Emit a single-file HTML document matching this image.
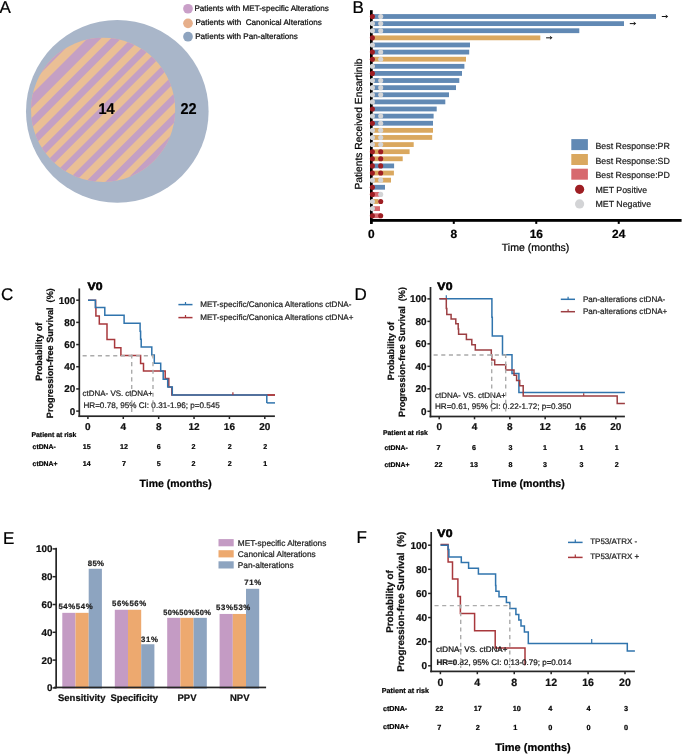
<!DOCTYPE html>
<html><head><meta charset="utf-8"><title>Figure</title>
<style>
html,body{margin:0;padding:0;background:#fff;}
body{width:685px;height:754px;overflow:hidden;}
svg{display:block;font-family:"Liberation Sans",sans-serif;will-change:transform;}
text{stroke:currentColor;stroke-width:0.22px;text-rendering:geometricPrecision;}
</style></head>
<body>
<svg width="685" height="754" viewBox="0 0 685 754">
<rect width="685" height="754" fill="#fff"/>
<text x="-0.60" y="12.60" font-size="17" font-weight="normal" text-anchor="start" fill="#000" color="#000" >A</text>
<circle cx="117.30" cy="111.40" r="91.30" fill="#A9B6C9" />
<defs><clipPath id="ic"><circle cx="103.1" cy="109.8" r="72.1"/></clipPath></defs>
<g clip-path="url(#ic)">
<rect x="28.00" y="35.00" width="150.00" height="150.00" fill="#EABF95" />
<polygon points="76.00,20.00 93.90,20.00 -86.10,200.00 -104.00,200.00" fill="#C4A0C4"/>
<polygon points="106.00,20.00 119.50,20.00 -60.50,200.00 -74.00,200.00" fill="#C4A0C4"/>
<polygon points="129.40,20.00 139.60,20.00 -40.40,200.00 -50.60,200.00" fill="#C4A0C4"/>
<polygon points="149.90,20.00 159.50,20.00 -20.50,200.00 -30.10,200.00" fill="#C4A0C4"/>
<polygon points="169.80,20.00 178.90,20.00 -1.10,200.00 -10.20,200.00" fill="#C4A0C4"/>
<polygon points="188.00,20.00 197.30,20.00 17.30,200.00 8.00,200.00" fill="#C4A0C4"/>
<polygon points="208.00,20.00 216.80,20.00 36.80,200.00 28.00,200.00" fill="#C4A0C4"/>
<polygon points="228.10,20.00 236.90,20.00 56.90,200.00 48.10,200.00" fill="#C4A0C4"/>
<polygon points="247.60,20.00 256.90,20.00 76.90,200.00 67.60,200.00" fill="#C4A0C4"/>
<polygon points="267.40,20.00 277.10,20.00 97.10,200.00 87.40,200.00" fill="#C4A0C4"/>
<polygon points="286.20,20.00 296.50,20.00 116.50,200.00 106.20,200.00" fill="#C4A0C4"/>
</g>
<text transform="translate(106.5,113.6) scale(0.93,1)" font-size="15.6" font-weight="bold" text-anchor="middle" fill="#000" color="#000">14</text>
<text transform="translate(188.5,113.6) scale(0.93,1)" font-size="15.6" font-weight="bold" text-anchor="middle" fill="#000" color="#000">22</text>
<circle cx="188.00" cy="8.75" r="4.85" fill="#C99FC8" />
<text x="194.40" y="10.55" font-size="8.1" fill="#111">Patients with MET-specific Alterations</text>
<circle cx="188.00" cy="23.35" r="4.85" fill="#E6AF8B" />
<text x="195.40" y="25.15" font-size="8.1" fill="#111">Patients with <tspan dx="2.1">Canonical Alterations</tspan></text>
<circle cx="188.00" cy="36.70" r="4.85" fill="#8EA4BF" />
<text x="195.20" y="38.50" font-size="8.1" fill="#111">Patients with Pan-alterations</text>
<text x="352.60" y="12.80" font-size="17" font-weight="normal" text-anchor="start" fill="#000" color="#000" >B</text>
<rect x="371.50" y="14.10" width="284.50" height="4.80" fill="#6189B4" />
<line x1="661.80" y1="16.50" x2="666.40" y2="16.50" stroke="#111" stroke-width="1.0" />
<path d="M665.50,14.50 L668.20,16.50 L665.50,18.50 L666.20,16.50 Z" fill="#111"/>
<rect x="371.50" y="21.22" width="252.50" height="4.80" fill="#6189B4" />
<line x1="629.80" y1="23.62" x2="634.40" y2="23.62" stroke="#111" stroke-width="1.0" />
<path d="M633.50,21.62 L636.20,23.62 L633.50,25.62 L634.20,23.62 Z" fill="#111"/>
<rect x="371.50" y="28.33" width="207.80" height="4.80" fill="#6189B4" />
<rect x="371.50" y="35.45" width="168.80" height="4.80" fill="#DAA85F" />
<line x1="546.10" y1="37.84" x2="550.70" y2="37.84" stroke="#111" stroke-width="1.0" />
<path d="M549.80,35.84 L552.50,37.84 L549.80,39.84 L550.50,37.84 Z" fill="#111"/>
<rect x="371.50" y="42.56" width="98.50" height="4.80" fill="#6189B4" />
<rect x="371.50" y="49.68" width="97.70" height="4.80" fill="#6189B4" />
<rect x="371.50" y="56.79" width="94.50" height="4.80" fill="#DAA85F" />
<rect x="371.50" y="63.91" width="92.90" height="4.80" fill="#6189B4" />
<rect x="371.50" y="71.02" width="90.50" height="4.80" fill="#6189B4" />
<rect x="371.50" y="78.13" width="87.80" height="4.80" fill="#6189B4" />
<rect x="371.50" y="85.25" width="84.50" height="4.80" fill="#6189B4" />
<rect x="371.50" y="92.36" width="77.50" height="4.80" fill="#6189B4" />
<rect x="371.50" y="99.48" width="73.80" height="4.80" fill="#6189B4" />
<rect x="371.50" y="106.59" width="65.20" height="4.80" fill="#6189B4" />
<rect x="371.50" y="113.71" width="62.10" height="4.80" fill="#6189B4" />
<rect x="371.50" y="120.83" width="61.50" height="4.80" fill="#6189B4" />
<rect x="371.50" y="127.94" width="61.50" height="4.80" fill="#DAA85F" />
<rect x="371.50" y="135.05" width="60.70" height="4.80" fill="#DAA85F" />
<rect x="371.50" y="142.17" width="42.20" height="4.80" fill="#DAA85F" />
<rect x="371.50" y="149.28" width="38.10" height="4.80" fill="#DAA85F" />
<rect x="371.50" y="156.40" width="31.20" height="4.80" fill="#DAA85F" />
<rect x="371.50" y="163.51" width="22.60" height="4.80" fill="#6189B4" />
<rect x="371.50" y="170.63" width="22.40" height="4.80" fill="#DAA85F" />
<rect x="371.50" y="177.75" width="19.50" height="4.80" fill="#DAA85F" />
<rect x="371.50" y="184.86" width="13.50" height="4.80" fill="#6189B4" />
<rect x="371.50" y="191.97" width="9.80" height="4.80" fill="#D7696E" />
<rect x="371.50" y="199.09" width="7.00" height="4.80" fill="#DAA85F" />
<rect x="371.50" y="206.21" width="8.50" height="4.80" fill="#D7696E" />
<rect x="371.50" y="213.32" width="9.80" height="4.80" fill="#D7696E" />
<rect x="370.00" y="10.20" width="2.70" height="213.70" fill="#000" />
<rect x="370.00" y="219.00" width="311.60" height="2.80" fill="#000" />
<rect x="370.30" y="221.00" width="2.00" height="2.90" fill="#000" />
<text x="371.30" y="237.90" font-size="11.9" font-weight="bold" text-anchor="middle" fill="#000" color="#000" >0</text>
<rect x="452.78" y="221.00" width="2.00" height="2.90" fill="#000" />
<text x="453.78" y="237.90" font-size="11.9" font-weight="bold" text-anchor="middle" fill="#000" color="#000" >8</text>
<rect x="535.26" y="221.00" width="2.00" height="2.90" fill="#000" />
<text x="536.26" y="237.90" font-size="11.9" font-weight="bold" text-anchor="middle" fill="#000" color="#000" >16</text>
<rect x="617.74" y="221.00" width="2.00" height="2.90" fill="#000" />
<text x="618.74" y="237.90" font-size="11.9" font-weight="bold" text-anchor="middle" fill="#000" color="#000" >24</text>
<circle cx="372.40" cy="16.50" r="2.55" fill="#9E1E23" />
<circle cx="380.70" cy="16.50" r="2.55" fill="#D3D4D6" />
<circle cx="372.40" cy="23.62" r="2.55" fill="#D3D4D6" />
<circle cx="380.70" cy="23.62" r="2.55" fill="#D3D4D6" />
<circle cx="372.40" cy="30.73" r="2.55" fill="#D3D4D6" />
<circle cx="380.70" cy="30.73" r="2.55" fill="#D3D4D6" />
<circle cx="372.40" cy="37.84" r="2.55" fill="#9E1E23" />
<circle cx="372.40" cy="44.96" r="2.55" fill="#D3D4D6" />
<circle cx="372.40" cy="52.08" r="2.55" fill="#9E1E23" />
<circle cx="380.70" cy="52.08" r="2.55" fill="#D3D4D6" />
<circle cx="372.40" cy="59.19" r="2.55" fill="#9E1E23" />
<circle cx="380.70" cy="59.19" r="2.55" fill="#D3D4D6" />
<circle cx="372.40" cy="66.31" r="2.55" fill="#D3D4D6" />
<circle cx="372.40" cy="73.42" r="2.55" fill="#9E1E23" />
<circle cx="372.40" cy="80.53" r="2.55" fill="#D3D4D6" />
<circle cx="380.70" cy="80.53" r="2.55" fill="#D3D4D6" />
<circle cx="372.40" cy="87.65" r="2.55" fill="#D3D4D6" />
<circle cx="380.70" cy="87.65" r="2.55" fill="#D3D4D6" />
<circle cx="372.40" cy="94.77" r="2.55" fill="#D3D4D6" />
<circle cx="380.70" cy="94.77" r="2.55" fill="#D3D4D6" />
<circle cx="372.40" cy="101.88" r="2.55" fill="#D3D4D6" />
<circle cx="372.40" cy="109.00" r="2.55" fill="#9E1E23" />
<circle cx="372.40" cy="116.11" r="2.55" fill="#D3D4D6" />
<circle cx="380.70" cy="116.11" r="2.55" fill="#D3D4D6" />
<circle cx="372.40" cy="123.23" r="2.55" fill="#9E1E23" />
<circle cx="380.70" cy="123.23" r="2.55" fill="#D3D4D6" />
<circle cx="372.40" cy="130.34" r="2.55" fill="#D3D4D6" />
<circle cx="380.70" cy="130.34" r="2.55" fill="#D3D4D6" />
<circle cx="372.40" cy="137.45" r="2.55" fill="#D3D4D6" />
<circle cx="380.70" cy="137.45" r="2.55" fill="#D3D4D6" />
<circle cx="372.40" cy="144.57" r="2.55" fill="#D3D4D6" />
<circle cx="380.70" cy="144.57" r="2.55" fill="#D3D4D6" />
<circle cx="372.40" cy="151.69" r="2.55" fill="#9E1E23" />
<circle cx="380.70" cy="151.69" r="2.55" fill="#9E1E23" />
<circle cx="372.40" cy="158.80" r="2.55" fill="#9E1E23" />
<circle cx="380.70" cy="158.80" r="2.55" fill="#9E1E23" />
<circle cx="372.40" cy="165.91" r="2.55" fill="#9E1E23" />
<circle cx="380.70" cy="165.91" r="2.55" fill="#9E1E23" />
<circle cx="372.40" cy="173.03" r="2.55" fill="#9E1E23" />
<circle cx="380.70" cy="173.03" r="2.55" fill="#9E1E23" />
<circle cx="372.40" cy="180.15" r="2.55" fill="#D3D4D6" />
<circle cx="380.70" cy="180.15" r="2.55" fill="#D3D4D6" />
<circle cx="372.40" cy="187.26" r="2.55" fill="#9E1E23" />
<circle cx="372.40" cy="194.38" r="2.55" fill="#9E1E23" />
<circle cx="380.70" cy="194.38" r="2.55" fill="#D3D4D6" />
<circle cx="372.40" cy="201.49" r="2.55" fill="#D3D4D6" />
<circle cx="380.70" cy="201.49" r="2.55" fill="#9E1E23" />
<circle cx="372.40" cy="208.61" r="2.55" fill="#D3D4D6" />
<circle cx="372.40" cy="215.72" r="2.55" fill="#9E1E23" />
<circle cx="380.70" cy="215.72" r="2.55" fill="#9E1E23" />
<text x="535.60" y="250.70" font-size="10.55" font-weight="normal" text-anchor="middle" fill="#000" color="#000" >Time (months)</text>
<text transform="translate(361.5,124.1) rotate(-90)" font-size="10.25" text-anchor="middle">Patients Received Ensartinib</text>
<rect x="571.30" y="139.10" width="16.60" height="11.00" fill="#6189B4" />
<rect x="571.30" y="154.00" width="16.60" height="11.00" fill="#DAA85F" />
<rect x="571.30" y="168.70" width="16.60" height="11.00" fill="#D7696E" />
<circle cx="579.60" cy="189.30" r="4.60" fill="#9E1E23" />
<circle cx="579.60" cy="203.90" r="4.60" fill="#D3D4D6" />
<text x="595.50" y="148.80" font-size="8.8" font-weight="normal" text-anchor="start" fill="#222" color="#222" >Best Response:PR</text>
<text x="595.50" y="163.50" font-size="8.8" font-weight="normal" text-anchor="start" fill="#222" color="#222" >Best Response:SD</text>
<text x="595.50" y="178.10" font-size="8.8" font-weight="normal" text-anchor="start" fill="#222" color="#222" >Best Response:PD</text>
<text x="595.50" y="192.70" font-size="8.8" font-weight="normal" text-anchor="start" fill="#222" color="#222" >MET Positive</text>
<text x="595.50" y="207.30" font-size="8.8" font-weight="normal" text-anchor="start" fill="#222" color="#222" >MET Negative</text>
<text x="0.90" y="299.60" font-size="17" font-weight="normal" text-anchor="start" fill="#000" color="#000" >C</text>
<rect x="78.45" y="288.40" width="1.70" height="128.65" fill="#262626" />
<rect x="78.50" y="415.35" width="196.40" height="1.70" fill="#262626" />
<rect x="76.20" y="410.35" width="3.10" height="1.50" fill="#262626" />
<text x="75.20" y="414.52" font-size="9.9" font-weight="bold" text-anchor="end" fill="#111" color="#111" >0</text>
<rect x="76.20" y="388.17" width="3.10" height="1.50" fill="#262626" />
<text x="75.20" y="392.34" font-size="9.9" font-weight="bold" text-anchor="end" fill="#111" color="#111" >20</text>
<rect x="76.20" y="365.99" width="3.10" height="1.50" fill="#262626" />
<text x="75.20" y="370.16" font-size="9.9" font-weight="bold" text-anchor="end" fill="#111" color="#111" >40</text>
<rect x="76.20" y="343.81" width="3.10" height="1.50" fill="#262626" />
<text x="75.20" y="347.98" font-size="9.9" font-weight="bold" text-anchor="end" fill="#111" color="#111" >60</text>
<rect x="76.20" y="321.63" width="3.10" height="1.50" fill="#262626" />
<text x="75.20" y="325.80" font-size="9.9" font-weight="bold" text-anchor="end" fill="#111" color="#111" >80</text>
<rect x="76.20" y="299.45" width="3.10" height="1.50" fill="#262626" />
<text x="75.20" y="303.62" font-size="9.9" font-weight="bold" text-anchor="end" fill="#111" color="#111" >100</text>
<rect x="87.15" y="416.20" width="1.50" height="2.80" fill="#262626" />
<text x="87.90" y="429.70" font-size="10.0" font-weight="bold" text-anchor="middle" fill="#111" color="#111" >0</text>
<rect x="122.53" y="416.20" width="1.50" height="2.80" fill="#262626" />
<text x="123.28" y="429.70" font-size="10.0" font-weight="bold" text-anchor="middle" fill="#111" color="#111" >4</text>
<rect x="157.91" y="416.20" width="1.50" height="2.80" fill="#262626" />
<text x="158.66" y="429.70" font-size="10.0" font-weight="bold" text-anchor="middle" fill="#111" color="#111" >8</text>
<rect x="193.29" y="416.20" width="1.50" height="2.80" fill="#262626" />
<text x="194.04" y="429.70" font-size="10.0" font-weight="bold" text-anchor="middle" fill="#111" color="#111" >12</text>
<rect x="228.67" y="416.20" width="1.50" height="2.80" fill="#262626" />
<text x="229.42" y="429.70" font-size="10.0" font-weight="bold" text-anchor="middle" fill="#111" color="#111" >16</text>
<rect x="264.05" y="416.20" width="1.50" height="2.80" fill="#262626" />
<text x="264.80" y="429.70" font-size="10.0" font-weight="bold" text-anchor="middle" fill="#111" color="#111" >20</text>
<text transform="translate(87.4,289.8) scale(1.12,1)" font-size="10.9" font-weight="bold" fill="#000" color="#000" style="letter-spacing:0.3px;stroke-width:0.6px">V0</text>
<polyline points="88.00,300.20 95.60,300.20 95.60,307.50 95.90,307.50 95.90,316.00 99.30,316.00 99.30,323.90 107.00,323.90 107.00,339.60 114.60,339.60 114.60,347.70 120.90,347.70 120.90,355.40 140.60,355.40 140.60,363.50 143.50,363.50 143.50,370.90 165.20,370.90 165.20,378.60 168.80,378.60 168.80,387.10 171.80,387.10 171.80,395.00 275.00,395.00" fill="none" stroke="#A8383C" stroke-width="1.5" stroke-linejoin="miter" stroke-linecap="butt" />
<polyline points="266.80,395.00 275.00,395.00" fill="none" stroke="#A8383C" stroke-width="1.5" stroke-linejoin="miter" stroke-linecap="butt" />
<polyline points="88.00,300.20 95.40,300.20 95.40,307.50 104.80,307.50 104.80,315.30 124.10,315.30 124.10,323.20 140.10,323.20 140.10,331.30 140.60,331.30 140.60,339.20 141.20,339.20 141.20,347.10 151.80,347.10 151.80,355.00 154.30,355.00 154.30,363.30 160.70,363.30 160.70,371.00 163.20,371.00 163.20,379.20 167.70,379.20 167.70,387.10 172.30,387.10 172.30,395.00 266.80,395.00 266.80,402.90" fill="none" stroke="#3074AD" stroke-width="1.5" stroke-linejoin="miter" stroke-linecap="butt" />
<polyline points="266.80,402.90 275.00,402.90 275.00,402.90" fill="none" stroke="#3074AD" stroke-width="1.5" stroke-linejoin="miter" stroke-linecap="butt" />
<line x1="232.90" y1="392.20" x2="232.90" y2="395.00" stroke="#A8383C" stroke-width="1.2" />
<text x="82.60" y="396.20" font-size="7.95" font-weight="normal" text-anchor="start" fill="#222" color="#222" >ctDNA- VS. ctDNA+</text>
<text x="83.40" y="407.70" font-size="8.15" font-weight="normal" text-anchor="start" fill="#222" color="#222" >HR=0.78, 95% CI: 0.31-1.96; p=0.545</text>
<line x1="178.40" y1="304.60" x2="192.50" y2="304.60" stroke="#3074AD" stroke-width="1.5" />
<line x1="185.50" y1="302.00" x2="185.50" y2="304.60" stroke="#3074AD" stroke-width="1.2" />
<text x="200.20" y="306.60" font-size="8.1" font-weight="normal" text-anchor="start" fill="#222" color="#222" >MET-specific/Canonica Alterations ctDNA-</text>
<line x1="178.40" y1="317.60" x2="192.50" y2="317.60" stroke="#A8383C" stroke-width="1.5" />
<line x1="185.50" y1="315.00" x2="185.50" y2="317.60" stroke="#A8383C" stroke-width="1.2" />
<text x="200.20" y="319.60" font-size="8.1" font-weight="normal" text-anchor="start" fill="#222" color="#222" >MET-specific/Canonica Alterations ctDNA+</text>
<text x="31.50" y="436.70" font-size="6.85" font-weight="bold" text-anchor="start" fill="#000" color="#000" >Patient at risk</text>
<text x="32.60" y="448.80" font-size="6.85" font-weight="bold" text-anchor="start" fill="#000" color="#000" >ctDNA-</text>
<text x="32.60" y="466.10" font-size="6.85" font-weight="bold" text-anchor="start" fill="#000" color="#000" >ctDNA+</text>
<text x="86.80" y="448.80" font-size="7.1" font-weight="bold" text-anchor="middle" fill="#000" color="#000" >15</text>
<text x="123.98" y="448.80" font-size="7.1" font-weight="bold" text-anchor="middle" fill="#000" color="#000" >12</text>
<text x="158.76" y="448.80" font-size="7.1" font-weight="bold" text-anchor="middle" fill="#000" color="#000" >6</text>
<text x="193.44" y="448.80" font-size="7.1" font-weight="bold" text-anchor="middle" fill="#000" color="#000" >2</text>
<text x="229.62" y="448.80" font-size="7.1" font-weight="bold" text-anchor="middle" fill="#000" color="#000" >2</text>
<text x="265.30" y="448.80" font-size="7.1" font-weight="bold" text-anchor="middle" fill="#000" color="#000" >2</text>
<text x="86.80" y="466.20" font-size="7.1" font-weight="bold" text-anchor="middle" fill="#000" color="#000" >14</text>
<text x="123.98" y="466.20" font-size="7.1" font-weight="bold" text-anchor="middle" fill="#000" color="#000" >7</text>
<text x="158.76" y="466.20" font-size="7.1" font-weight="bold" text-anchor="middle" fill="#000" color="#000" >5</text>
<text x="193.44" y="466.20" font-size="7.1" font-weight="bold" text-anchor="middle" fill="#000" color="#000" >2</text>
<text x="229.62" y="466.20" font-size="7.1" font-weight="bold" text-anchor="middle" fill="#000" color="#000" >2</text>
<text x="265.30" y="466.20" font-size="7.1" font-weight="bold" text-anchor="middle" fill="#000" color="#000" >1</text>
<text x="175.60" y="487.20" font-size="10.5" font-weight="bold" text-anchor="middle" fill="#000" color="#000" >Time (months)</text>
<text transform="translate(42.3,351.8) rotate(-90)" font-size="9.1" font-weight="bold" text-anchor="middle" fill="#111">Probability of</text>
<text transform="translate(53.2,353.2) rotate(-90)" font-size="9.1" font-weight="bold" text-anchor="middle" fill="#111" xml:space="preserve">Progression-free Survival  (%)</text>
<text x="354.60" y="299.50" font-size="17" font-weight="normal" text-anchor="start" fill="#000" color="#000" >D</text>
<rect x="429.65" y="287.00" width="1.70" height="130.35" fill="#262626" />
<rect x="429.60" y="415.65" width="195.30" height="1.70" fill="#262626" />
<rect x="427.40" y="410.55" width="3.10" height="1.50" fill="#262626" />
<text x="426.40" y="414.72" font-size="9.9" font-weight="bold" text-anchor="end" fill="#111" color="#111" >0</text>
<rect x="427.40" y="388.07" width="3.10" height="1.50" fill="#262626" />
<text x="426.40" y="392.24" font-size="9.9" font-weight="bold" text-anchor="end" fill="#111" color="#111" >20</text>
<rect x="427.40" y="365.59" width="3.10" height="1.50" fill="#262626" />
<text x="426.40" y="369.76" font-size="9.9" font-weight="bold" text-anchor="end" fill="#111" color="#111" >40</text>
<rect x="427.40" y="343.11" width="3.10" height="1.50" fill="#262626" />
<text x="426.40" y="347.28" font-size="9.9" font-weight="bold" text-anchor="end" fill="#111" color="#111" >60</text>
<rect x="427.40" y="320.63" width="3.10" height="1.50" fill="#262626" />
<text x="426.40" y="324.80" font-size="9.9" font-weight="bold" text-anchor="end" fill="#111" color="#111" >80</text>
<rect x="427.40" y="298.15" width="3.10" height="1.50" fill="#262626" />
<text x="426.40" y="302.32" font-size="9.9" font-weight="bold" text-anchor="end" fill="#111" color="#111" >100</text>
<rect x="438.45" y="416.50" width="1.50" height="2.80" fill="#262626" />
<text x="439.20" y="430.20" font-size="10.0" font-weight="bold" text-anchor="middle" fill="#111" color="#111" >0</text>
<rect x="473.77" y="416.50" width="1.50" height="2.80" fill="#262626" />
<text x="474.52" y="430.20" font-size="10.0" font-weight="bold" text-anchor="middle" fill="#111" color="#111" >4</text>
<rect x="509.09" y="416.50" width="1.50" height="2.80" fill="#262626" />
<text x="509.84" y="430.20" font-size="10.0" font-weight="bold" text-anchor="middle" fill="#111" color="#111" >8</text>
<rect x="544.41" y="416.50" width="1.50" height="2.80" fill="#262626" />
<text x="545.16" y="430.20" font-size="10.0" font-weight="bold" text-anchor="middle" fill="#111" color="#111" >12</text>
<rect x="579.73" y="416.50" width="1.50" height="2.80" fill="#262626" />
<text x="580.48" y="430.20" font-size="10.0" font-weight="bold" text-anchor="middle" fill="#111" color="#111" >16</text>
<rect x="615.05" y="416.50" width="1.50" height="2.80" fill="#262626" />
<text x="615.80" y="430.20" font-size="10.0" font-weight="bold" text-anchor="middle" fill="#111" color="#111" >20</text>
<text transform="translate(437.2,289.9) scale(1.12,1)" font-size="10.9" font-weight="bold" fill="#000" color="#000" style="letter-spacing:0.3px;stroke-width:0.6px">V0</text>
<polyline points="439.40,298.70 491.90,298.70 491.90,317.20 492.30,317.20 492.30,336.00 502.50,336.00 502.50,354.70 512.00,354.70 512.00,373.40 518.90,373.40 518.90,392.40 624.90,392.40 624.90,392.40" fill="none" stroke="#3074AD" stroke-width="1.5" stroke-linejoin="miter" stroke-linecap="butt" />
<line x1="446.30" y1="295.30" x2="446.30" y2="298.70" stroke="#3074AD" stroke-width="1.2" />
<polyline points="439.40,298.70 446.30,298.70 446.30,308.50 446.80,308.50 446.80,314.60 451.10,314.60 451.10,319.10 455.80,319.10 455.80,323.80 458.20,323.80 458.20,329.00 458.60,329.00 458.60,334.30 466.40,334.30 466.40,339.60 471.80,339.60 471.80,344.70 475.30,344.70 475.30,350.00 491.30,350.00 491.30,355.00 491.80,355.00 491.80,360.00 494.70,360.00 494.70,364.80 505.70,364.80 505.70,370.10 514.00,370.10 514.00,375.30 516.60,375.30 516.60,380.60 519.70,380.60 519.70,385.80 523.20,385.80 523.20,396.00 617.20,396.00 617.20,403.60 624.90,403.60 624.90,403.60" fill="none" stroke="#9C3E42" stroke-width="1.5" stroke-linejoin="miter" stroke-linecap="butt" />
<line x1="583.70" y1="393.30" x2="583.70" y2="396.00" stroke="#9C3E42" stroke-width="1.2" />
<text x="435.00" y="397.70" font-size="8.0" font-weight="normal" text-anchor="start" fill="#222" color="#222" >ctDNA- VS. ctDNA+</text>
<text x="434.90" y="408.90" font-size="8.15" font-weight="normal" text-anchor="start" fill="#222" color="#222" >HR=0.61, 95% CI: 0.22-1.72; p=0.350</text>
<line x1="560.80" y1="299.30" x2="575.00" y2="299.30" stroke="#3074AD" stroke-width="1.5" />
<line x1="568.10" y1="296.80" x2="568.10" y2="299.30" stroke="#3074AD" stroke-width="1.2" />
<text x="583.00" y="301.80" font-size="8.05" font-weight="normal" text-anchor="start" fill="#222" color="#222" >Pan-alterations ctDNA-</text>
<line x1="560.80" y1="311.70" x2="575.00" y2="311.70" stroke="#9C3E42" stroke-width="1.5" />
<line x1="568.10" y1="309.20" x2="568.10" y2="311.70" stroke="#9C3E42" stroke-width="1.2" />
<text x="583.00" y="314.20" font-size="8.05" font-weight="normal" text-anchor="start" fill="#222" color="#222" >Pan-alterations ctDNA+</text>
<text x="383.00" y="434.80" font-size="6.85" font-weight="bold" text-anchor="start" fill="#000" color="#000" >Patient at risk</text>
<text x="384.50" y="449.80" font-size="6.85" font-weight="bold" text-anchor="start" fill="#000" color="#000" >ctDNA-</text>
<text x="384.50" y="467.40" font-size="6.85" font-weight="bold" text-anchor="start" fill="#000" color="#000" >ctDNA+</text>
<text x="438.50" y="449.90" font-size="7.1" font-weight="bold" text-anchor="middle" fill="#000" color="#000" >7</text>
<text x="474.02" y="449.90" font-size="7.1" font-weight="bold" text-anchor="middle" fill="#000" color="#000" >6</text>
<text x="510.44" y="449.90" font-size="7.1" font-weight="bold" text-anchor="middle" fill="#000" color="#000" >3</text>
<text x="544.86" y="449.90" font-size="7.1" font-weight="bold" text-anchor="middle" fill="#000" color="#000" >1</text>
<text x="581.48" y="449.90" font-size="7.1" font-weight="bold" text-anchor="middle" fill="#000" color="#000" >1</text>
<text x="616.80" y="449.90" font-size="7.1" font-weight="bold" text-anchor="middle" fill="#000" color="#000" >1</text>
<text x="438.50" y="467.20" font-size="7.1" font-weight="bold" text-anchor="middle" fill="#000" color="#000" >22</text>
<text x="474.02" y="467.20" font-size="7.1" font-weight="bold" text-anchor="middle" fill="#000" color="#000" >13</text>
<text x="510.44" y="467.20" font-size="7.1" font-weight="bold" text-anchor="middle" fill="#000" color="#000" >8</text>
<text x="544.86" y="467.20" font-size="7.1" font-weight="bold" text-anchor="middle" fill="#000" color="#000" >3</text>
<text x="581.48" y="467.20" font-size="7.1" font-weight="bold" text-anchor="middle" fill="#000" color="#000" >3</text>
<text x="616.80" y="467.20" font-size="7.1" font-weight="bold" text-anchor="middle" fill="#000" color="#000" >2</text>
<text x="528.40" y="487.30" font-size="10.6" font-weight="bold" text-anchor="middle" fill="#000" color="#000" >Time (months)</text>
<text transform="translate(393.8,351.1) rotate(-90)" font-size="9.1" font-weight="bold" text-anchor="middle" fill="#111">Probability of</text>
<text transform="translate(405.0,352.0) rotate(-90)" font-size="9.1" font-weight="bold" text-anchor="middle" fill="#111" xml:space="preserve">Progression-free Survival  (%)</text>
<text x="2.90" y="544.30" font-size="17" font-weight="normal" text-anchor="start" fill="#000" color="#000" >E</text>
<rect x="62.30" y="612.84" width="13.20" height="75.76" fill="#C49BC4" />
<rect x="75.50" y="612.84" width="13.20" height="75.76" fill="#EDA96F" />
<rect x="88.70" y="568.78" width="13.20" height="119.82" fill="#8DA4C0" />
<rect x="114.80" y="609.78" width="13.20" height="78.82" fill="#C49BC4" />
<rect x="128.00" y="609.78" width="13.20" height="78.82" fill="#EDA96F" />
<rect x="141.20" y="644.25" width="13.20" height="44.35" fill="#8DA4C0" />
<rect x="167.20" y="617.84" width="13.20" height="70.76" fill="#C49BC4" />
<rect x="180.40" y="617.84" width="13.20" height="70.76" fill="#EDA96F" />
<rect x="193.60" y="617.84" width="13.20" height="70.76" fill="#8DA4C0" />
<rect x="219.60" y="613.95" width="13.20" height="74.65" fill="#C49BC4" />
<rect x="232.80" y="613.95" width="13.20" height="74.65" fill="#EDA96F" />
<rect x="246.00" y="588.79" width="13.20" height="99.81" fill="#8DA4C0" />
<rect x="55.30" y="547.80" width="1.70" height="140.60" fill="#262626" />
<rect x="54.10" y="686.60" width="212.00" height="1.70" fill="#262626" />
<rect x="52.60" y="687.15" width="3.50" height="1.50" fill="#262626" />
<text x="52.40" y="691.30" font-size="9.8" font-weight="bold" text-anchor="end" fill="#111" color="#111" >0</text>
<rect x="52.60" y="659.35" width="3.50" height="1.50" fill="#262626" />
<text x="52.40" y="663.50" font-size="9.8" font-weight="bold" text-anchor="end" fill="#111" color="#111" >20</text>
<rect x="52.60" y="631.55" width="3.50" height="1.50" fill="#262626" />
<text x="52.40" y="635.70" font-size="9.8" font-weight="bold" text-anchor="end" fill="#111" color="#111" >40</text>
<rect x="52.60" y="603.75" width="3.50" height="1.50" fill="#262626" />
<text x="52.40" y="607.90" font-size="9.8" font-weight="bold" text-anchor="end" fill="#111" color="#111" >60</text>
<rect x="52.60" y="575.95" width="3.50" height="1.50" fill="#262626" />
<text x="52.40" y="580.10" font-size="9.8" font-weight="bold" text-anchor="end" fill="#111" color="#111" >80</text>
<rect x="52.60" y="548.15" width="3.50" height="1.50" fill="#262626" />
<text x="52.40" y="552.30" font-size="9.8" font-weight="bold" text-anchor="end" fill="#111" color="#111" >100</text>
<text x="58.40" y="609.20" font-size="7.8" font-weight="bold" text-anchor="start" fill="#222" color="#222" letter-spacing="0.6">54%54%</text>
<text x="87.80" y="566.40" font-size="7.8" font-weight="bold" text-anchor="start" fill="#222" color="#222" letter-spacing="0.3">85%</text>
<text x="112.00" y="606.10" font-size="7.8" font-weight="bold" text-anchor="start" fill="#222" color="#222" letter-spacing="0.6">56%56%</text>
<text x="141.10" y="641.50" font-size="7.8" font-weight="bold" text-anchor="start" fill="#222" color="#222" letter-spacing="0.6">31%</text>
<text x="163.20" y="614.60" font-size="7.5" font-weight="bold" text-anchor="start" fill="#222" color="#222" letter-spacing="0.35">50%50%50%</text>
<text x="216.10" y="610.00" font-size="7.8" font-weight="bold" text-anchor="start" fill="#222" color="#222" letter-spacing="0.6">53%53%</text>
<text x="244.30" y="585.20" font-size="7.8" font-weight="bold" text-anchor="start" fill="#222" color="#222" letter-spacing="0.6">71%</text>
<text x="58.00" y="700.60" font-size="9.5" font-weight="bold" text-anchor="start" fill="#111" color="#111" >Sensitivity</text>
<text x="110.50" y="700.60" font-size="9.5" font-weight="bold" text-anchor="start" fill="#111" color="#111" >Specificity</text>
<text x="177.50" y="700.60" font-size="9.5" font-weight="bold" text-anchor="start" fill="#111" color="#111" >PPV</text>
<text x="230.00" y="700.60" font-size="9.5" font-weight="bold" text-anchor="start" fill="#111" color="#111" >NPV</text>
<rect x="218.50" y="539.10" width="15.20" height="7.20" fill="#C49BC4" />
<text x="237.80" y="545.60" font-size="8.3" font-weight="normal" text-anchor="start" fill="#222" color="#222" >MET-specific Alterations</text>
<rect x="218.50" y="550.20" width="15.20" height="7.20" fill="#EDA96F" />
<text x="237.80" y="556.70" font-size="8.3" font-weight="normal" text-anchor="start" fill="#222" color="#222" >Canonical Alterations</text>
<rect x="218.50" y="561.30" width="15.20" height="7.20" fill="#8DA4C0" />
<text x="237.80" y="567.80" font-size="8.3" font-weight="normal" text-anchor="start" fill="#222" color="#222" >Pan-alterations</text>
<text x="356.60" y="542.60" font-size="17" font-weight="normal" text-anchor="start" fill="#000" color="#000" >F</text>
<rect x="430.35" y="532.00" width="1.70" height="140.25" fill="#262626" />
<rect x="430.20" y="670.55" width="204.70" height="1.70" fill="#262626" />
<rect x="428.10" y="665.05" width="3.10" height="1.50" fill="#262626" />
<text x="427.10" y="669.25" font-size="10.0" font-weight="bold" text-anchor="end" fill="#111" color="#111" >0</text>
<rect x="428.10" y="640.93" width="3.10" height="1.50" fill="#262626" />
<text x="427.10" y="645.13" font-size="10.0" font-weight="bold" text-anchor="end" fill="#111" color="#111" >20</text>
<rect x="428.10" y="616.81" width="3.10" height="1.50" fill="#262626" />
<text x="427.10" y="621.01" font-size="10.0" font-weight="bold" text-anchor="end" fill="#111" color="#111" >40</text>
<rect x="428.10" y="592.69" width="3.10" height="1.50" fill="#262626" />
<text x="427.10" y="596.89" font-size="10.0" font-weight="bold" text-anchor="end" fill="#111" color="#111" >60</text>
<rect x="428.10" y="568.57" width="3.10" height="1.50" fill="#262626" />
<text x="427.10" y="572.77" font-size="10.0" font-weight="bold" text-anchor="end" fill="#111" color="#111" >80</text>
<rect x="428.10" y="544.45" width="3.10" height="1.50" fill="#262626" />
<text x="427.10" y="548.65" font-size="10.0" font-weight="bold" text-anchor="end" fill="#111" color="#111" >100</text>
<rect x="439.65" y="671.40" width="1.50" height="2.80" fill="#262626" />
<text x="440.40" y="686.00" font-size="10.6" font-weight="bold" text-anchor="middle" fill="#111" color="#111" >0</text>
<rect x="476.57" y="671.40" width="1.50" height="2.80" fill="#262626" />
<text x="477.32" y="686.00" font-size="10.6" font-weight="bold" text-anchor="middle" fill="#111" color="#111" >4</text>
<rect x="513.49" y="671.40" width="1.50" height="2.80" fill="#262626" />
<text x="514.24" y="686.00" font-size="10.6" font-weight="bold" text-anchor="middle" fill="#111" color="#111" >8</text>
<rect x="550.41" y="671.40" width="1.50" height="2.80" fill="#262626" />
<text x="551.16" y="686.00" font-size="10.6" font-weight="bold" text-anchor="middle" fill="#111" color="#111" >12</text>
<rect x="587.33" y="671.40" width="1.50" height="2.80" fill="#262626" />
<text x="588.08" y="686.00" font-size="10.6" font-weight="bold" text-anchor="middle" fill="#111" color="#111" >16</text>
<rect x="624.25" y="671.40" width="1.50" height="2.80" fill="#262626" />
<text x="625.00" y="686.00" font-size="10.6" font-weight="bold" text-anchor="middle" fill="#111" color="#111" >20</text>
<text transform="translate(437.2,537.2) scale(1.12,1)" font-size="10.9" font-weight="bold" fill="#000" color="#000" style="letter-spacing:0.3px;stroke-width:0.6px">V0</text>
<polyline points="440.50,544.50 448.10,544.50 448.10,562.00 452.50,562.00 452.50,579.10 457.90,579.10 457.90,596.40 460.40,596.40 460.40,613.40 474.60,613.40 474.60,630.80 495.20,630.80 495.20,648.10 525.00,648.10 525.00,665.20" fill="none" stroke="#A8383C" stroke-width="1.5" stroke-linejoin="miter" stroke-linecap="butt" />
<polyline points="440.50,545.30 448.10,545.30 448.10,549.60 448.90,549.60 448.90,556.90 461.30,556.90 461.30,562.40 468.60,562.40 468.60,568.20 478.40,568.20 478.40,574.00 495.60,574.00 495.60,585.50 495.90,585.50 495.90,591.30 499.00,591.30 499.00,596.80 506.40,596.80 506.40,602.50 509.80,602.50 509.80,608.50 515.90,608.50 515.90,614.60 518.80,614.60 518.80,620.00 521.00,620.00 521.00,626.00 524.40,626.00 524.40,632.00 528.30,632.00 528.30,643.40 627.30,643.40 627.30,650.90 634.90,650.90 634.90,650.90" fill="none" stroke="#3074AD" stroke-width="1.5" stroke-linejoin="miter" stroke-linecap="butt" />
<line x1="591.70" y1="638.90" x2="591.70" y2="643.40" stroke="#3074AD" stroke-width="1.2" />
<text x="436.1" y="651.7" font-size="8.05" fill="#222">ctDNA- VS. ctDNA+</text>
<text x="436.4" y="664.9" font-size="8.05" fill="#222"><tspan font-weight="bold">HR=0</tspan>.82, 95% CI: 0.13-0.79; p=0.014</text>
<line x1="568.00" y1="542.40" x2="582.60" y2="542.40" stroke="#3074AD" stroke-width="1.5" />
<line x1="575.30" y1="539.50" x2="575.30" y2="542.40" stroke="#3074AD" stroke-width="1.2" />
<text x="590.20" y="544.00" font-size="8.0" font-weight="normal" text-anchor="start" fill="#222" color="#222" >TP53/ATRX -</text>
<line x1="568.00" y1="557.40" x2="582.60" y2="557.40" stroke="#A8383C" stroke-width="1.5" />
<line x1="575.30" y1="554.50" x2="575.30" y2="557.40" stroke="#A8383C" stroke-width="1.2" />
<text x="590.20" y="559.00" font-size="8.0" font-weight="normal" text-anchor="start" fill="#222" color="#222" >TP53/ATRX +</text>
<text x="381.80" y="693.40" font-size="7.2" font-weight="bold" text-anchor="start" fill="#000" color="#000" >Patient at risk</text>
<text x="382.90" y="711.00" font-size="7.2" font-weight="bold" text-anchor="start" fill="#000" color="#000" >ctDNA-</text>
<text x="382.90" y="729.30" font-size="7.2" font-weight="bold" text-anchor="start" fill="#000" color="#000" >ctDNA+</text>
<text x="439.20" y="711.10" font-size="7.3" font-weight="bold" text-anchor="middle" fill="#000" color="#000" >22</text>
<text x="477.70" y="711.10" font-size="7.3" font-weight="bold" text-anchor="middle" fill="#000" color="#000" >17</text>
<text x="516.80" y="711.10" font-size="7.3" font-weight="bold" text-anchor="middle" fill="#000" color="#000" >10</text>
<text x="550.40" y="711.10" font-size="7.3" font-weight="bold" text-anchor="middle" fill="#000" color="#000" >4</text>
<text x="588.50" y="711.10" font-size="7.3" font-weight="bold" text-anchor="middle" fill="#000" color="#000" >4</text>
<text x="626.10" y="711.10" font-size="7.3" font-weight="bold" text-anchor="middle" fill="#000" color="#000" >3</text>
<text x="439.20" y="729.60" font-size="7.3" font-weight="bold" text-anchor="middle" fill="#000" color="#000" >7</text>
<text x="477.70" y="729.60" font-size="7.3" font-weight="bold" text-anchor="middle" fill="#000" color="#000" >2</text>
<text x="515.20" y="729.60" font-size="7.3" font-weight="bold" text-anchor="middle" fill="#000" color="#000" >1</text>
<text x="550.40" y="729.60" font-size="7.3" font-weight="bold" text-anchor="middle" fill="#000" color="#000" >0</text>
<text x="588.50" y="729.60" font-size="7.3" font-weight="bold" text-anchor="middle" fill="#000" color="#000" >0</text>
<text x="626.10" y="729.60" font-size="7.3" font-weight="bold" text-anchor="middle" fill="#000" color="#000" >0</text>
<text x="533.00" y="751.00" font-size="11.0" font-weight="bold" text-anchor="middle" fill="#000" color="#000" >Time (months)</text>
<text transform="translate(393.3,601.5) rotate(-90)" font-size="9.8" font-weight="bold" text-anchor="middle" fill="#111">Probability of</text>
<text transform="translate(404.4,601.8) rotate(-90)" font-size="9.8" font-weight="bold" text-anchor="middle" fill="#111" xml:space="preserve">Progression-free Survival  (%)</text>
<line x1="82.60" y1="355.80" x2="153.00" y2="355.80" stroke="#ABABAB" stroke-width="1.4" stroke-dasharray="4.1,3.55"/>
<line x1="131.70" y1="354.40" x2="131.70" y2="413.00" stroke="#ABABAB" stroke-width="1.4" stroke-dasharray="4.1,3.55"/>
<line x1="153.00" y1="354.40" x2="153.00" y2="413.00" stroke="#ABABAB" stroke-width="1.4" stroke-dasharray="4.1,3.55"/>
<line x1="433.60" y1="355.00" x2="505.70" y2="355.00" stroke="#ABABAB" stroke-width="1.4" stroke-dasharray="4.1,3.55"/>
<line x1="491.70" y1="353.90" x2="491.70" y2="413.00" stroke="#ABABAB" stroke-width="1.4" stroke-dasharray="4.1,3.55"/>
<line x1="505.70" y1="353.90" x2="505.70" y2="413.00" stroke="#ABABAB" stroke-width="1.4" stroke-dasharray="4.1,3.55"/>
<line x1="434.50" y1="605.60" x2="509.80" y2="605.60" stroke="#ABABAB" stroke-width="1.4" stroke-dasharray="4.1,3.55"/>
<line x1="460.70" y1="604.50" x2="460.70" y2="668.00" stroke="#ABABAB" stroke-width="1.4" stroke-dasharray="4.1,3.55"/>
<line x1="509.80" y1="604.50" x2="509.80" y2="668.00" stroke="#ABABAB" stroke-width="1.4" stroke-dasharray="4.1,3.55"/>
</svg>
</body></html>
